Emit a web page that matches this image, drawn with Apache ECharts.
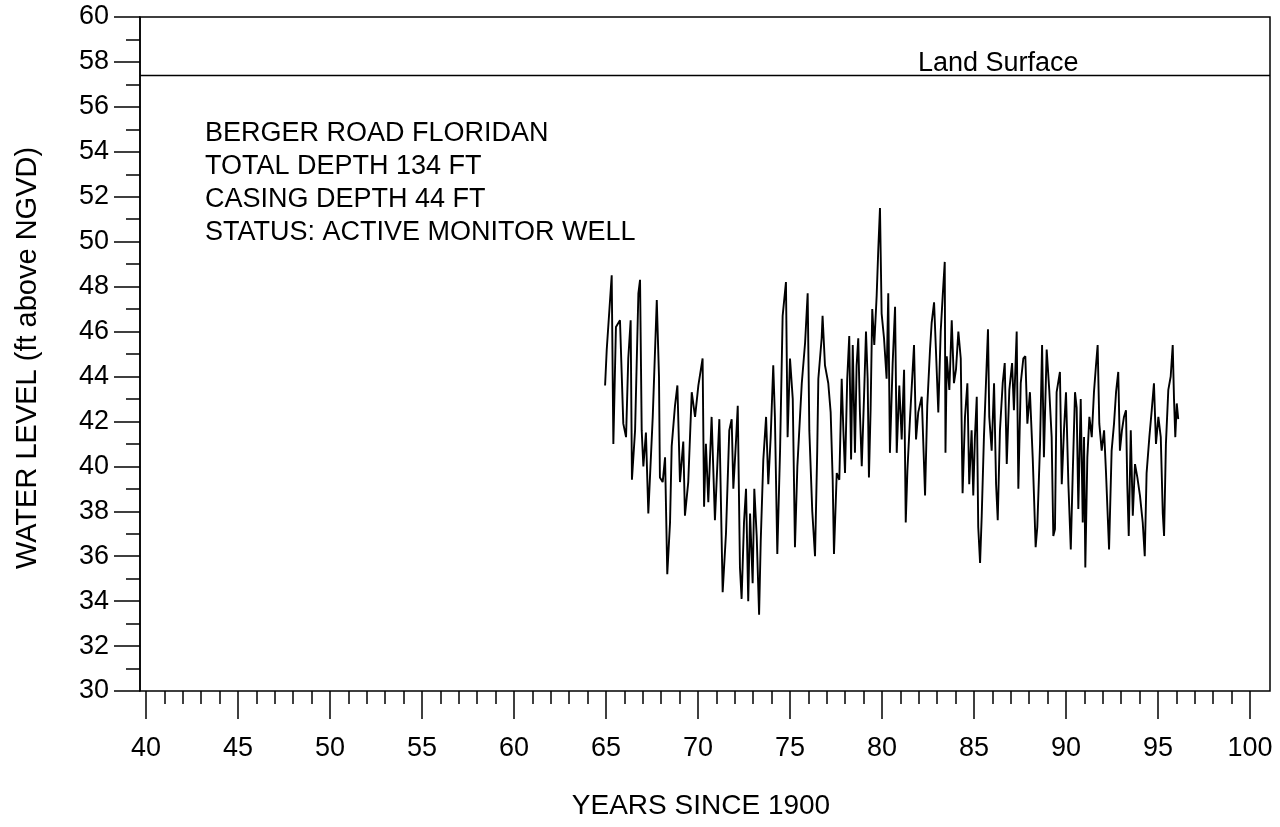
<!DOCTYPE html>
<html>
<head>
<meta charset="utf-8">
<script src="https://cdn.jsdelivr.net/npm/echarts@6/dist/echarts.min.js"></script>
<style>
html,body{margin:0;padding:0;background:#fff;}
#chart{width:1280px;height:827px;}
</style>
</head>
<body>
<div id="chart"></div>
<script>
// Years since 1900 (x) and water level in ft above NGVD (y)
const years = [
64.95,65.04,65.31,65.40,65.54,65.76,65.94,66.09,66.21,66.34,66.41,66.58,66.76,66.85,66.94,67.03,67.17,67.30,67.54,67.76,
67.88,67.93,68.08,68.21,68.33,68.48,68.57,68.75,68.88,69.02,69.20,69.29,69.47,69.66,69.84,70.02,70.25,
70.33,70.43,70.56,70.74,70.92,71.16,71.34,71.52,71.70,71.83,71.92,72.07,72.16,72.28,72.37,72.50,72.61,72.73,72.83,72.97,
73.06,73.19,73.32,73.41,73.55,73.70,73.82,73.95,74.09,74.18,74.31,74.46,74.60,74.78,74.87,75.00,75.15,75.27,75.40,75.64,
75.82,75.96,76.05,76.21,76.36,76.48,
76.54,76.72,76.77,76.90,77.08,77.21,77.32,77.39,77.54,77.68,77.81,77.90,77.99,78.11,78.22,78.32,78.41,78.53,78.62,78.71,
78.80,78.90,79.02,79.13,79.22,79.29,79.38,79.47,79.58,79.71,79.80,79.89,79.98,80.11,80.25,80.34,80.43,80.58,80.71,80.80,
80.94,81.07,81.20,81.29,81.38,81.52,81.74,81.85,81.97,82.16,82.34,82.46,
82.61,82.70,82.83,82.93,83.06,83.19,83.30,83.41,83.45,83.52,83.66,83.79,83.91,84.02,84.15,84.28,84.38,84.51,84.64,84.74,
84.87,84.96,85.05,85.15,85.23,85.33,85.42,85.54,85.65,85.76,85.83,85.96,86.09,86.20,86.29,86.41,86.56,86.67,86.78,86.92,
87.07,87.17,87.32,87.41,87.54,87.68,87.79,87.90,88.04,
88.19,88.26,88.35,88.44,88.59,88.70,88.80,88.95,89.09,89.22,89.31,89.40,89.49,89.67,89.77,89.89,90.00,90.13,90.26,90.36,
90.49,90.58,90.67,90.80,90.91,90.98,91.05,91.16,91.27,91.40,91.52,91.63,91.72,91.81,91.94,92.07,92.17,92.34,92.48,92.61,
92.72,92.84,92.93,93.04,93.15,93.26,93.33,93.41,93.52,93.63,93.75,93.88,94.02,94.17,94.28,94.38,94.53,94.66,94.78,94.89,
95.02,95.15,95.26,95.33,95.43,95.56,95.69,95.80,95.87,95.94,96.02,96.10
];
const levels = [
43.6,45.2,48.5,41.0,46.2,46.5,41.9,41.3,44.8,46.5,39.4,41.6,47.7,48.3,41.6,40.0,41.5,37.9,42.2,47.4,
44.0,39.5,39.3,40.4,35.2,37.5,40.9,42.7,43.6,39.3,41.1,37.8,39.3,43.3,42.2,43.6,44.8,
38.2,41.0,38.4,42.2,37.6,42.1,34.4,37.0,41.6,42.1,39.0,41.2,42.7,35.5,34.1,37.5,39.0,34.0,37.9,34.8,
39.0,36.9,33.4,36.7,40.3,42.2,39.2,41.3,44.5,42.2,36.1,40.7,46.7,48.2,41.3,44.8,43.0,36.4,40.0,43.7,
45.5,47.7,41.6,38.0,36.0,40.7,
43.9,45.7,46.7,44.5,43.7,42.4,39.4,36.1,39.7,39.4,43.9,41.6,39.7,43.9,45.8,40.3,45.4,40.6,44.5,45.7,
42.4,40.0,43.0,46.0,43.9,39.5,42.5,47.0,45.4,47.6,49.7,51.5,46.8,45.7,43.9,47.7,40.6,44.6,47.1,40.6,
43.6,41.2,44.3,37.5,39.8,42.1,45.4,41.2,42.4,43.1,38.7,42.7,
45.2,46.4,47.3,45.2,42.4,46.0,47.6,49.1,40.6,44.9,43.4,46.5,43.7,44.3,46.0,44.8,38.8,42.2,43.7,39.2,
41.6,38.7,41.3,43.1,37.3,35.7,37.8,41.3,43.7,46.1,42.2,40.7,43.7,39.2,37.6,41.6,43.7,44.6,40.1,43.4,
44.6,42.5,46.0,39.0,43.7,44.8,44.9,41.9,43.3,
40.4,38.7,36.4,37.3,41.0,45.4,40.4,45.2,43.4,41.3,36.9,37.2,43.3,44.2,39.2,41.6,43.3,39.2,36.3,39.5,
43.3,42.6,38.1,43.0,37.5,41.3,35.5,40.4,42.2,41.3,43.3,44.5,45.4,41.9,40.7,41.6,39.8,36.3,40.7,41.9,
43.3,44.2,40.7,41.6,42.2,42.5,39.2,36.9,41.6,37.8,40.1,39.5,38.7,37.5,36.0,39.7,41.3,42.5,43.7,41.0,
42.2,41.3,37.9,36.9,41.0,43.4,44.0,45.4,43.0,41.3,42.8,42.1
];
const landSurface = 57.4;
const yTicks = [30,32,34,36,38,40,42,44,46,48,50,52,54,56,58,60];
const xTicks = [40,45,50,55,60,65,70,75,80,85,90,95,100];
const infoLines = ['BERGER ROAD FLORIDAN','TOTAL DEPTH 134 FT','CASING DEPTH 44 FT','STATUS: ACTIVE MONITOR WELL'];

const FONT = '"Liberation Sans", Arial, Helvetica, sans-serif';
const series = years.map((y, i) => [y, levels[i]]);

// frame x extent in years (frame edge slightly beyond the 40..100 axis)
const frameXMin = 39.674, frameXMax = 101.087;

const chart = echarts.init(document.getElementById('chart'), null, {renderer: 'canvas'});
chart.setOption({
  animation: false,
  backgroundColor: '#fff',
  grid: [
    {left: 140, right: 10, top: 17, bottom: 136, show: true, borderColor: '#000', borderWidth: 1.5, backgroundColor: 'transparent'},
    {left: 146, right: 30, top: 17, bottom: 136, show: false}
  ],
  xAxis: [
    {gridIndex: 0, type: 'value', min: frameXMin, max: frameXMax, show: false},
    {gridIndex: 1, type: 'value', min: 40, max: 100, interval: 5, position: 'bottom',
      axisLine: {show: false},
      axisTick: {show: true, inside: false, length: 28, lineStyle: {color: '#000', width: 1.5}},
      minorTick: {show: true, splitNumber: 5, length: 13, lineStyle: {color: '#000', width: 1.5}},
      splitLine: {show: false},
      axisLabel: {show: true, margin: 44, fontSize: 27, color: '#000', fontFamily: FONT,
        formatter: v => (xTicks.indexOf(v) >= 0 ? String(v) : '')}
    }
  ],
  yAxis: [
    {gridIndex: 0, type: 'value', min: 30, max: 60, interval: 2,
      axisLine: {show: true, lineStyle: {color: '#000', width: 1.5}},
      axisTick: {show: true, inside: false, length: 26, lineStyle: {color: '#000', width: 1.5}},
      minorTick: {show: true, splitNumber: 2, length: 14, lineStyle: {color: '#000', width: 1.5}},
      splitLine: {show: false},
      axisLabel: {show: true, margin: 31, fontSize: 27, color: '#000', fontFamily: FONT,
        formatter: v => (yTicks.indexOf(v) >= 0 ? String(v) : '')}
    },
    {gridIndex: 1, type: 'value', min: 30, max: 60, show: false}
  ],
  series: [
    {type: 'line', xAxisIndex: 0, yAxisIndex: 0, symbol: 'none', silent: true,
      lineStyle: {color: '#000', width: 1.5},
      data: [[frameXMin, landSurface], [frameXMax, landSurface]]},
    {type: 'line', xAxisIndex: 1, yAxisIndex: 1, symbol: 'none', silent: true,
      lineStyle: {color: '#000', width: 1.9},
      data: series}
  ],
  graphic: [
    {type: 'text', left: 918, top: 50, style: {text: 'Land Surface', font: '27px ' + FONT, fill: '#000'}},
    {type: 'text', left: 205, top: 117, style: {text: infoLines.join('\n'), font: '27px ' + FONT, fill: '#000', lineHeight: 33}},
    {type: 'text', x: 28, y: 358, rotation: Math.PI / 2,
      style: {text: 'WATER LEVEL (ft above NGVD)', font: '29px ' + FONT, fill: '#000', textAlign: 'center', textVerticalAlign: 'middle'}},
    {type: 'text', x: 701, y: 806,
      style: {text: 'YEARS SINCE 1900', font: '28px ' + FONT, fill: '#000', textAlign: 'center', textVerticalAlign: 'middle'}}
  ]
});
</script>
</body>
</html>
